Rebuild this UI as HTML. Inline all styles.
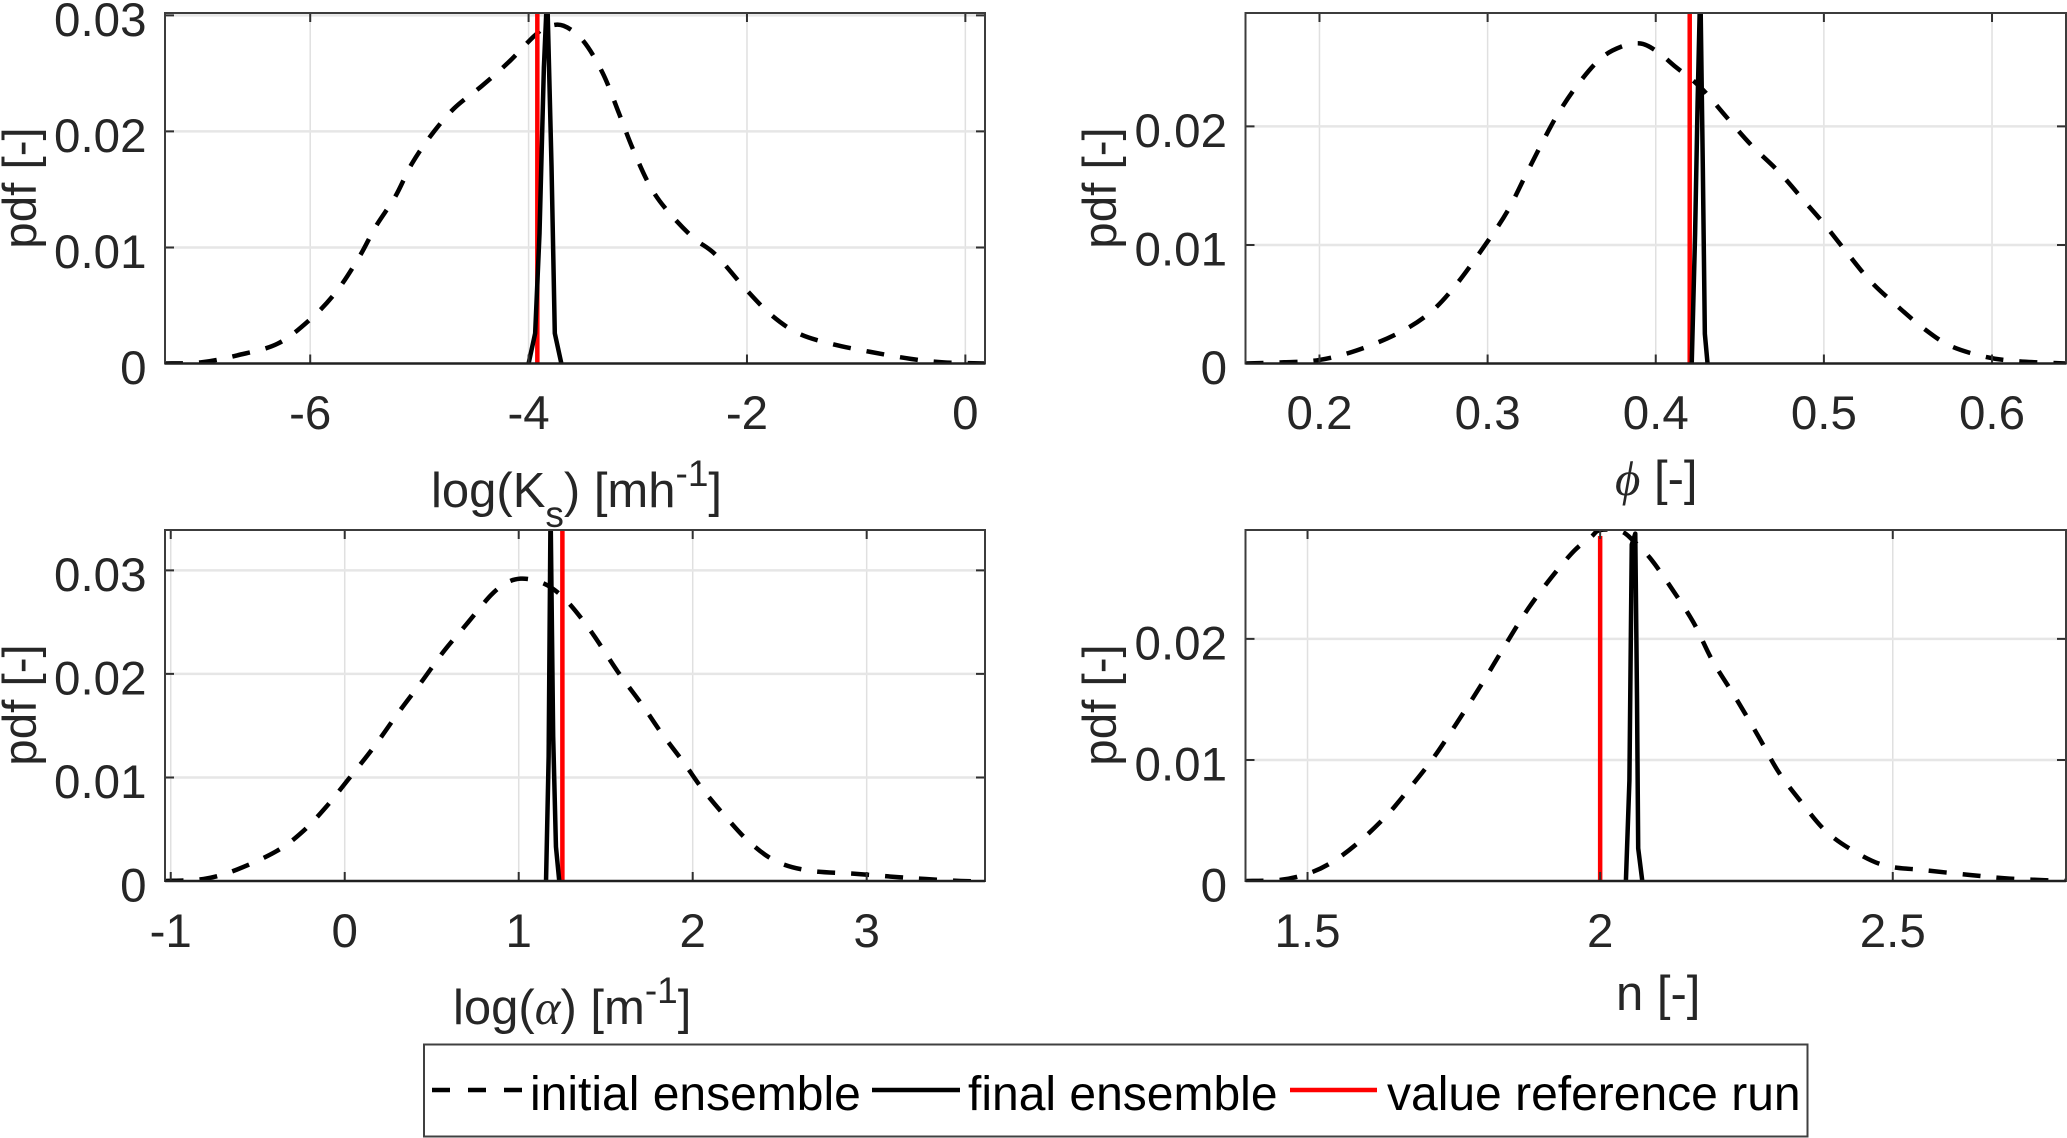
<!DOCTYPE html>
<html lang="en">
<head>
<meta charset="utf-8">
<title>Parameter ensemble probability density functions</title>
<style>
html,body{margin:0;padding:0;background:#fff;width:2067px;height:1138px;overflow:hidden}
svg{display:block}
text{font-family:"Liberation Sans",Arial,sans-serif}
.tick{font-size:47.5px;fill:#262626}
.lab{font-size:47.5px;fill:#262626}
.xlab{font-size:49px;fill:#262626}
.small{font-size:37px}
.leg{font-size:48px;fill:#000}
.greek{font-family:"Liberation Serif","DejaVu Serif",serif;font-style:italic}
</style>
</head>
<body>
<svg id="chart" xmlns="http://www.w3.org/2000/svg" width="2067" height="1138" viewBox="0 0 2067 1138">
  <rect x="0" y="0" width="2067" height="1138" fill="#fff"/>
  <g id="panels"></g>

  <text class="lab" text-anchor="middle" transform="translate(36 188) rotate(-90)">pdf [-]</text>
  <text class="lab" text-anchor="middle" transform="translate(1116 188) rotate(-90)">pdf [-]</text>
  <text class="lab" text-anchor="middle" transform="translate(36 705) rotate(-90)">pdf [-]</text>
  <text class="lab" text-anchor="middle" transform="translate(1116 705) rotate(-90)">pdf [-]</text>

  <text class="xlab" x="431" y="507">log(K<tspan class="small" dy="20">s</tspan><tspan dy="-20">) [mh</tspan><tspan class="small" dy="-21">-1</tspan><tspan dy="21">]</tspan></text>
  <text class="xlab" x="1615" y="495"><tspan class="greek">ϕ</tspan> [-]</text>
  <text class="xlab" x="453" y="1024">log(<tspan class="greek">α</tspan>) [m<tspan class="small" dy="-21">-1</tspan><tspan dy="21">]</tspan></text>
  <text class="xlab" x="1616" y="1010">n [-]</text>

  <g>
    <rect x="424" y="1044.5" width="1383.5" height="92" fill="#fff" stroke="#404040" stroke-width="2"/>
    <line x1="432" y1="1090" x2="523" y2="1090" stroke="#000" stroke-width="4.5" stroke-dasharray="18 18"/>
    <text class="leg" x="530" y="1110">initial ensemble</text>
    <line x1="872" y1="1090" x2="960" y2="1090" stroke="#000" stroke-width="4.5"/>
    <text class="leg" x="968" y="1110">final ensemble</text>
    <line x1="1290" y1="1090" x2="1377" y2="1090" stroke="#ff0000" stroke-width="4.5"/>
    <text class="leg" x="1387" y="1110">value reference run</text>
  </g>
</svg>
<script>
// ---- log(Ks) panel data ----
const ksXTicks = [-6, -4, -2, 0];
const ksXTickLabels = ['-6', '-4', '-2', '0'];
const ksYTicks = [0, 0.01, 0.02, 0.03];
const ksYTickLabels = ['0', '0.01', '0.02', '0.03'];
const ksInitialX = [-7.33, -7.0, -6.67, -6.3, -6.0, -5.76, -5.55, -5.4, -5.22, -5.07, -4.89, -4.68, -4.43, -4.19, -3.95, -3.83, -3.68, -3.5, -3.32, -3.17, -3.05, -2.9, -2.75, -2.5, -2.29, -2.02, -1.78, -1.53, -1.23, -0.87, -0.5, -0.2, 0.18];
const ksInitialY = [0, 0.0001, 0.0007, 0.0017, 0.0038, 0.0062, 0.0092, 0.0118, 0.0144, 0.0172, 0.0197, 0.022, 0.0239, 0.0259, 0.0282, 0.029, 0.0291, 0.0278, 0.025, 0.0215, 0.0186, 0.0155, 0.0134, 0.0109, 0.0094, 0.0065, 0.0042, 0.0026, 0.0017, 0.001, 0.0004, 0.0001, 0];
const ksFinalX = [-4.0, -3.94, -3.9, -3.86, -3.83, -3.79, -3.76, -3.7];
const ksFinalY = [0, 0.0026, 0.0112, 0.0255, 0.032, 0.017, 0.0026, 0];
const ksReference = -3.92;

// ---- phi panel data ----
const phiXTicks = [0.2, 0.3, 0.4, 0.5, 0.6];
const phiXTickLabels = ['0.2', '0.3', '0.4', '0.5', '0.6'];
const phiYTicks = [0, 0.01, 0.02];
const phiYTickLabels = ['0', '0.01', '0.02'];
const phiInitialX = [0.156, 0.179, 0.2, 0.222, 0.246, 0.265, 0.281, 0.3, 0.312, 0.322, 0.332, 0.342, 0.354, 0.367, 0.379, 0.391, 0.401, 0.412, 0.422, 0.43, 0.442, 0.457, 0.473, 0.489, 0.5, 0.514, 0.528, 0.544, 0.559, 0.575, 0.595, 0.614, 0.644];
const phiInitialY = [0, 0.0001, 0.0003, 0.0011, 0.0025, 0.0042, 0.0066, 0.0103, 0.0129, 0.0157, 0.0185, 0.0211, 0.0236, 0.0257, 0.0267, 0.027, 0.0263, 0.025, 0.0239, 0.0228, 0.0208, 0.0184, 0.0162, 0.0136, 0.0118, 0.0093, 0.0069, 0.0048, 0.003, 0.0015, 0.0006, 0.0002, 0];
const phiFinalX = [0.4214, 0.4234, 0.4249, 0.4265, 0.428, 0.4292, 0.4308];
const phiFinalY = [0, 0.0109, 0.0221, 0.032, 0.0165, 0.0025, 0];
const phiReference = 0.4202;

// ---- log(alpha) panel data ----
const alphaXTicks = [-1, 0, 1, 2, 3];
const alphaXTickLabels = ['-1', '0', '1', '2', '3'];
const alphaYTicks = [0, 0.01, 0.02, 0.03];
const alphaYTickLabels = ['0', '0.01', '0.02', '0.03'];
const alphaInitialX = [-1.03, -0.81, -0.62, -0.39, -0.24, -0.11, 0.02, 0.17, 0.31, 0.44, 0.57, 0.7, 0.84, 0.93, 1.01, 1.1, 1.19, 1.29, 1.42, 1.57, 1.71, 1.82, 1.95, 2.06, 2.2, 2.33, 2.48, 2.67, 2.93, 3.24, 3.54, 3.68];
const alphaInitialY = [0, 0.0002, 0.0011, 0.0029, 0.0048, 0.0071, 0.0098, 0.013, 0.0163, 0.0192, 0.0222, 0.0248, 0.0276, 0.0288, 0.0292, 0.029, 0.0283, 0.0268, 0.024, 0.0202, 0.017, 0.0143, 0.0114, 0.0088, 0.006, 0.0037, 0.0019, 0.001, 0.0007, 0.0003, 0, 0];
const alphaFinalX = [1.157, 1.172, 1.183, 1.198, 1.214, 1.233];
const alphaFinalY = [0, 0.012, 0.036, 0.014, 0.0033, 0];
const alphaReference = 1.251;

// ---- n panel data ----
const nXTicks = [1.5, 2, 2.5];
const nXTickLabels = ['1.5', '2', '2.5'];
const nYTicks = [0, 0.01, 0.02];
const nYTickLabels = ['0', '0.01', '0.02'];
const nInitialX = [1.394, 1.455, 1.5, 1.54, 1.585, 1.635, 1.675, 1.714, 1.753, 1.798, 1.843, 1.877, 1.917, 1.956, 1.984, 2.0, 2.035, 2.057, 2.085, 2.119, 2.159, 2.192, 2.232, 2.271, 2.305, 2.344, 2.384, 2.429, 2.485, 2.553, 2.632, 2.699, 2.796];
const nInitialY = [0, 0.0001, 0.0006, 0.0015, 0.0031, 0.0054, 0.0077, 0.0101, 0.0129, 0.0163, 0.0199, 0.0225, 0.0251, 0.0273, 0.0284, 0.029, 0.0289, 0.0281, 0.0267, 0.0244, 0.0214, 0.0182, 0.0151, 0.0119, 0.009, 0.0065, 0.0042, 0.0026, 0.0013, 0.0009, 0.0005, 0.0002, 0];
const nFinalX = [2.044, 2.05, 2.054, 2.06, 2.063, 2.065, 2.072];
const nFinalY = [0, 0.0083, 0.0278, 0.0287, 0.015, 0.0027, 0];
const nReference = 2.0;
const nReferenceTop = 0.0285;

const SVG_NS = 'http://www.w3.org/2000/svg';
const root = document.getElementById('panels');

function make(tag, attrs, parent) {
  const el = document.createElementNS(SVG_NS, tag);
  for (const k in attrs) el.setAttribute(k, attrs[k]);
  parent.appendChild(el);
  return el;
}

function smoothPath(pts) {
  let d = 'M' + pts[0][0].toFixed(2) + ' ' + pts[0][1].toFixed(2);
  for (let i = 0; i < pts.length - 1; i++) {
    const p0 = pts[Math.max(i - 1, 0)];
    const p1 = pts[i];
    const p2 = pts[i + 1];
    const p3 = pts[Math.min(i + 2, pts.length - 1)];
    const c1x = p1[0] + (p2[0] - p0[0]) / 6;
    const c1y = p1[1] + (p2[1] - p0[1]) / 6;
    const c2x = p2[0] - (p3[0] - p1[0]) / 6;
    const c2y = p2[1] - (p3[1] - p1[1]) / 6;
    d += 'C' + c1x.toFixed(2) + ' ' + c1y.toFixed(2) + ' ' + c2x.toFixed(2) + ' ' + c2y.toFixed(2) + ' ' + p2[0].toFixed(2) + ' ' + p2[1].toFixed(2);
  }
  return d;
}

function drawPanel(p) {
  const box = p.box;
  const xScale = v => box.l + (v - p.xlim[0]) / (p.xlim[1] - p.xlim[0]) * (box.r - box.l);
  const yScale = v => box.b - (v - p.ylim[0]) / (p.ylim[1] - p.ylim[0]) * (box.b - box.t);

  const g = make('g', {}, root);
  
  

  const clipId = 'clip-' + p.name;
  const defs = make('defs', {}, g);
  const clip = make('clipPath', { id: clipId }, defs);
  make('rect', { x: box.l, y: box.t, width: box.r - box.l, height: box.b - box.t }, clip);

  // grid lines
  p.xTicks.forEach(t => {
    const grid = make('line', { x1: xScale(t), x2: xScale(t), y1: box.t, y2: box.b, stroke: '#e0e0e0', 'stroke-width': 1.5 }, g);
    
    
  });
  p.yTicks.forEach(t => {
    if (t === 0) return;
    const grid = make('line', { x1: box.l, x2: box.r, y1: yScale(t), y2: yScale(t), stroke: '#e6e6e6', 'stroke-width': 2.5 }, g);
    
    
  });

  // series
  const series = make('g', { 'clip-path': 'url(#' + clipId + ')' }, g);
  
  

  const toPoints = (xs, ys) => xs.map((x, i) => [xScale(x), yScale(ys[i])]);

  const initial = make('path', { d: smoothPath(toPoints(p.initialX, p.initialY)), fill: 'none', stroke: '#000', 'stroke-width': 4.5, 'stroke-dasharray': '18 16', 'stroke-linejoin': 'round' }, series);
  
  

  const reference = make('line', { x1: xScale(p.reference), x2: xScale(p.reference), y1: yScale(0), y2: yScale(p.referenceTop), stroke: '#ff0000', 'stroke-width': 4.5 }, series);
  
  

  const finalLine = make('polyline', { points: toPoints(p.finalX, p.finalY).map(q => q[0].toFixed(2) + ',' + q[1].toFixed(2)).join(' '), fill: 'none', stroke: '#000', 'stroke-width': 4.5, 'stroke-linejoin': 'round' }, series);
  
  

  // ticks
  const tickPath = [];
  p.xTicks.forEach(t => {
    tickPath.push('M' + xScale(t) + ' ' + box.b + 'v-9M' + xScale(t) + ' ' + box.t + 'v9');
  });
  p.yTicks.forEach(t => {
    tickPath.push('M' + box.l + ' ' + yScale(t) + 'h9M' + box.r + ' ' + yScale(t) + 'h-9');
  });
  const ticks = make('path', { d: tickPath.join(''), stroke: '#303030', 'stroke-width': 2, fill: 'none' }, g);
  
  

  // frame
  const frame = make('rect', { x: box.l, y: box.t, width: box.r - box.l, height: box.b - box.t, fill: 'none', stroke: '#3c3c3c', 'stroke-width': 2 }, g);
  
  
  const zeroLine = make('line', { x1: box.l, x2: box.r, y1: box.b, y2: box.b, stroke: '#202020', 'stroke-width': 2.5 }, g);
  
  

  // tick labels
  p.xTicks.forEach((t, i) => {
    const label = make('text', { class: 'tick', x: xScale(t), y: p.xLabelBaseline, 'text-anchor': 'middle' }, g);
    label.textContent = p.xTickLabels[i];
    
    
  });
  p.yTicks.forEach((t, i) => {
    const label = make('text', { class: 'tick', x: box.l - 18.5, y: yScale(t) + 20.5, 'text-anchor': 'end' }, g);
    label.textContent = p.yTickLabels[i];
    
    
  });
}

drawPanel({
  name: 'log-ks', box: { l: 165, t: 13, r: 985, b: 363.5 },
  xlim: [-7.33, 0.18], ylim: [0, 0.0302], xLabelBaseline: 429,
  xTicks: ksXTicks, xTickLabels: ksXTickLabels, yTicks: ksYTicks, yTickLabels: ksYTickLabels,
  initialX: ksInitialX, initialY: ksInitialY, finalX: ksFinalX, finalY: ksFinalY,
  reference: ksReference, referenceTop: 0.0302
});
drawPanel({
  name: 'phi', box: { l: 1245.5, t: 13, r: 2066, b: 363.5 },
  xlim: [0.156, 0.644], ylim: [0, 0.02957], xLabelBaseline: 429,
  xTicks: phiXTicks, xTickLabels: phiXTickLabels, yTicks: phiYTicks, yTickLabels: phiYTickLabels,
  initialX: phiInitialX, initialY: phiInitialY, finalX: phiFinalX, finalY: phiFinalY,
  reference: phiReference, referenceTop: 0.02957
});
drawPanel({
  name: 'log-alpha', box: { l: 165, t: 530, r: 985, b: 881 },
  xlim: [-1.033, 3.68], ylim: [0, 0.0339], xLabelBaseline: 947,
  xTicks: alphaXTicks, xTickLabels: alphaXTickLabels, yTicks: alphaYTicks, yTickLabels: alphaYTickLabels,
  initialX: alphaInitialX, initialY: alphaInitialY, finalX: alphaFinalX, finalY: alphaFinalY,
  reference: alphaReference, referenceTop: 0.0339
});
drawPanel({
  name: 'n', box: { l: 1245.5, t: 530, r: 2066, b: 881 },
  xlim: [1.394, 2.796], ylim: [0, 0.029], xLabelBaseline: 947,
  xTicks: nXTicks, xTickLabels: nXTickLabels, yTicks: nYTicks, yTickLabels: nYTickLabels,
  initialX: nInitialX, initialY: nInitialY, finalX: nFinalX, finalY: nFinalY,
  reference: nReference, referenceTop: nReferenceTop
});
</script>
</body>
</html>
